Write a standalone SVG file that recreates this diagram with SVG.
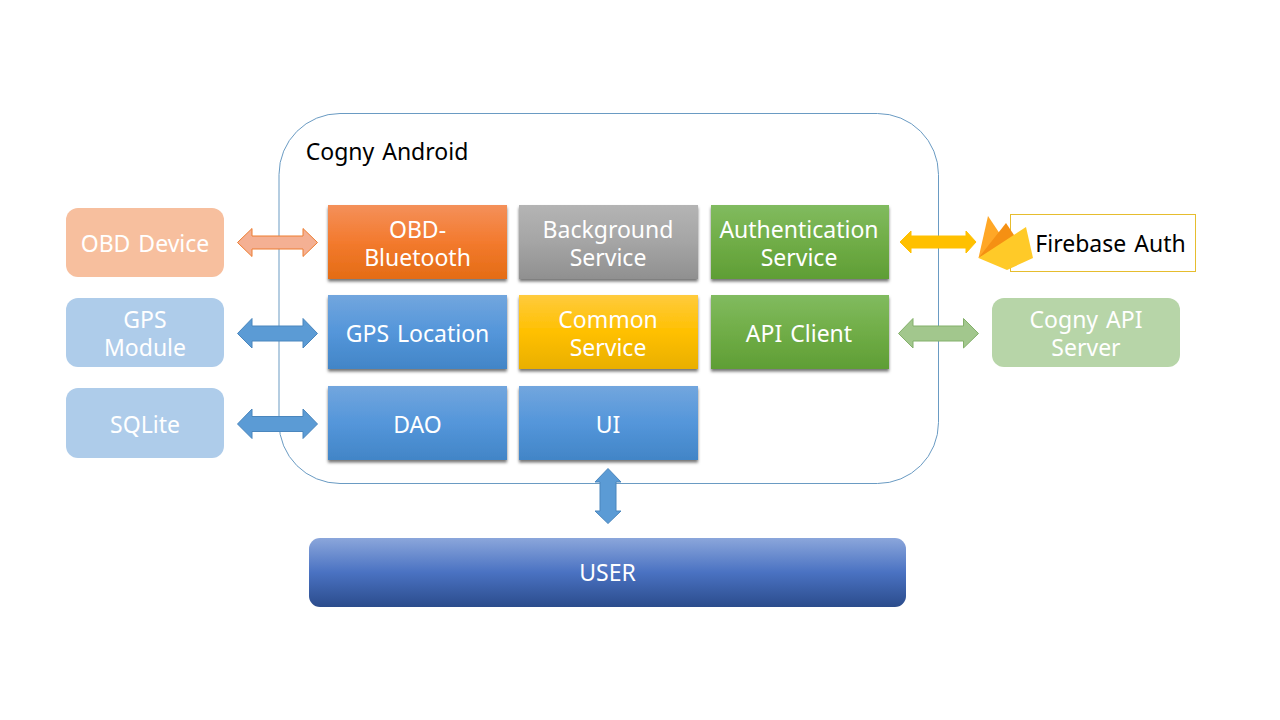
<svg xmlns="http://www.w3.org/2000/svg" width="1280" height="720" viewBox="0 0 1280 720">
<style>
text{font-family:"Noto Sans","Noto Sans CJK KR",sans-serif;font-size:23px;text-anchor:middle;fill:#fff;word-spacing:2px}
.dark{fill:#000}
.box{filter:url(#sh)}
.a{stroke-width:1}
</style>
<defs>
<filter id="sh" x="-5%" y="-5%" width="110%" height="115%"><feDropShadow dx="0" dy="2.500" stdDeviation="1.800" flood-color="#000" flood-opacity=".55"/></filter>
<linearGradient id="or" x1="0" y1="0" x2="0" y2="1"><stop offset="0" stop-color="#f4905a"/><stop offset=".5" stop-color="#f37a2e"/><stop offset="1" stop-color="#e46c14"/></linearGradient>
<linearGradient id="gr" x1="0" y1="0" x2="0" y2="1"><stop offset="0" stop-color="#b4b4b4"/><stop offset=".5" stop-color="#a5a5a5"/><stop offset="1" stop-color="#909090"/></linearGradient>
<linearGradient id="gn" x1="0" y1="0" x2="0" y2="1"><stop offset="0" stop-color="#81bb5f"/><stop offset=".5" stop-color="#70ad47"/><stop offset="1" stop-color="#5f9e35"/></linearGradient>
<linearGradient id="bl" x1="0" y1="0" x2="0" y2="1"><stop offset="0" stop-color="#72a6de"/><stop offset=".5" stop-color="#5496da"/><stop offset="1" stop-color="#4285c7"/></linearGradient>
<linearGradient id="ye" x1="0" y1="0" x2="0" y2="1"><stop offset="0" stop-color="#ffcb3d"/><stop offset=".5" stop-color="#ffc000"/><stop offset="1" stop-color="#e9af00"/></linearGradient>
<linearGradient id="us" x1="0" y1="0" x2="0" y2="1"><stop offset="0" stop-color="#8ba6db"/><stop offset=".5" stop-color="#4a72c2"/><stop offset="1" stop-color="#2b4c8c"/></linearGradient>
</defs>
<g id="android">
<rect x="279" y="113.500" width="659.500" height="370" rx="61" fill="#fff" stroke="#6a9bc3" stroke-width="1"/>
<text x="387" y="160" class="dark">Cogny Android</text>
</g>
<g id="connectors">
<path class="a" d="M237.500 242.500L252 228.500V236H303V228.500L317.500 242.500L303 256.500V249H252V256.500Z" fill="#f4b093" stroke="#ed7d31"/>
<path class="a" d="M237.500 333.500L252 318.500V326H303V318.500L317.500 333.500L303 348V341H252V348Z" fill="#5b9bd5" stroke="#4a86bd"/>
<path class="a" d="M237.500 424L252 409V416.500H303V409L317.500 424L303 438.500V431.500H252V438.500Z" fill="#5b9bd5" stroke="#4a86bd"/>
<path class="a" d="M900 242L911 231V236H966V231L976 242L966 253V248H911V253Z" fill="#ffc000" stroke="#ffc000"/>
<path class="a" d="M898.500 333.500L913 318.500V326H963.500V318.500L978.500 333.500L963.500 348V341H913V348Z" fill="#a2c78d" stroke="#83b06a"/>
<path class="a" d="M608 468.500L621 482H616V511H621L608 523.500L595 511H600V482H595Z" fill="#5b9bd5" stroke="#4a86bd"/>
</g>
<g id="obd-device"><rect x="66" y="208" width="158" height="69" rx="12" fill="#f7bf9e"/><text x="145" y="252">OBD Device</text></g>
<g id="gps-module"><rect x="66" y="298" width="158" height="69" rx="12" fill="#aeccea"/><text x="145" y="328">GPS</text><text x="145" y="356">Module</text></g>
<g id="sqlite"><rect x="66" y="388" width="158" height="70" rx="12" fill="#aeccea"/><text x="145" y="433">SQLite</text></g>
<g id="obd-bluetooth"><rect class="box" x="328" y="205" width="179" height="74" fill="url(#or)"/><text x="417.500" y="238">OBD-</text><text x="417.500" y="266">Bluetooth</text></g>
<g id="background-service"><rect class="box" x="519" y="205" width="179" height="74" fill="url(#gr)"/><text x="608" y="238">Background</text><text x="608" y="266">Service</text></g>
<g id="authentication-service"><rect class="box" x="711" y="205" width="178" height="74" fill="url(#gn)"/><text x="799" y="238">Authentication</text><text x="799" y="266">Service</text></g>
<g id="gps-location"><rect class="box" x="328" y="295" width="179" height="74" fill="url(#bl)"/><text x="417.500" y="342">GPS Location</text></g>
<g id="common-service"><rect class="box" x="519" y="295" width="179" height="74" fill="url(#ye)"/><text x="608" y="328">Common</text><text x="608" y="356">Service</text></g>
<g id="api-client"><rect class="box" x="711" y="295" width="178" height="74" fill="url(#gn)"/><text x="799" y="342">API Client</text></g>
<g id="dao"><rect class="box" x="328" y="386" width="179" height="74" fill="url(#bl)"/><text x="417.500" y="433">DAO</text></g>
<g id="ui"><rect class="box" x="519" y="386" width="179" height="74" fill="url(#bl)"/><text x="608" y="433">UI</text></g>
<g id="firebase-auth">
<rect x="1010.500" y="214.500" width="185" height="57" fill="#fff" stroke="#e6bd2e" stroke-width="1"/>
<path d="M978.500 258L988 216L1008 246Z" fill="#ffa726"/>
<path d="M978.500 258L1006 223L1016 238Z" fill="#f59013"/>
<path d="M978.500 258L1026 227L1033 258L1007 270Z" fill="#ffca28"/>
<text x="1110.500" y="252" class="dark">Firebase Auth</text>
</g>
<g id="cogny-api-server"><rect x="992" y="298" width="188" height="69" rx="12" fill="#b7d5a8"/><text x="1086" y="328">Cogny API</text><text x="1086" y="356">Server</text></g>
<g id="user"><rect x="309" y="538" width="597" height="69" rx="11" fill="url(#us)"/><text x="607.500" y="581">USER</text></g>
</svg>
